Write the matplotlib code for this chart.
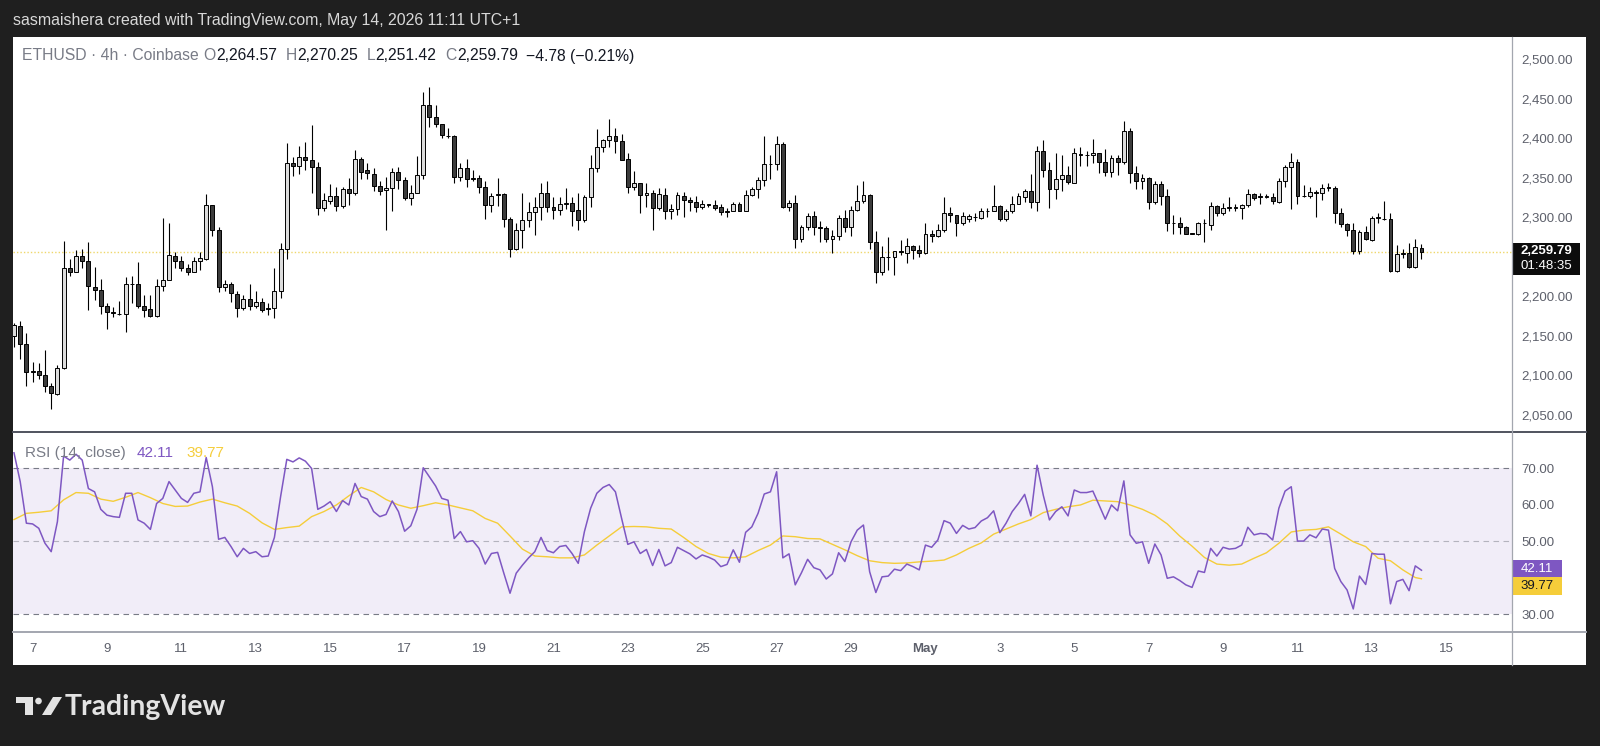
#!/usr/bin/env python3

import pandas as pd
import matplotlib
matplotlib.use('Agg')
import matplotlib.pyplot as plt
from matplotlib.patches import Rectangle, Polygon, Circle
from matplotlib.transforms import blended_transform_factory, offset_copy

plt.rcParams['font.family'] = ['Liberation Sans', 'DejaVu Sans']

# ETHUSD 4h bars (Coinbase); the first bar opens 2026-04-06 12:00
first_bar = '2026-04-06 12:00'

opens = [
    2153, 2166, 2144, 2109, 2109, 2104, 2090, 2080, 2113, 2240,
    2235, 2255, 2248, 2216, 2212, 2191, 2183.5, 2182, 2181, 2219,
    2219, 2191, 2188, 2179, 2217, 2224, 2255, 2248, 2240, 2235,
    2248, 2251, 2319, 2287, 2216, 2219, 2207, 2189, 2200, 2192,
    2196, 2189, 2189, 2210, 2264, 2372, 2368, 2380, 2376, 2367,
    2315, 2324, 2331, 2318, 2340, 2334, 2377, 2363, 2359, 2343,
    2338, 2341, 2361, 2351, 2328, 2335, 2357, 2445, 2431, 2421,
    2407, 2406, 2354, 2366, 2353, 2353, 2342, 2319, 2332, 2333,
    2301, 2264, 2288, 2300, 2310, 2317, 2334, 2317, 2313, 2321,
    2322, 2313, 2300, 2329, 2366, 2392, 2401, 2406, 2400, 2377,
    2342, 2347, 2332, 2335, 2315, 2332, 2311, 2314, 2331, 2326,
    2323, 2317, 2321, 2319, 2317, 2310, 2312, 2321, 2312, 2332,
    2339, 2351, 2371, 2371, 2396, 2317, 2322, 2276, 2291, 2305,
    2292, 2290, 2276, 2280, 2303, 2291, 2313, 2324, 2332, 2272,
    2234, 2253, 2253, 2260.5, 2259, 2267, 2262, 2258, 2283, 2280,
    2287, 2309, 2306, 2297, 2302, 2304, 2303, 2311, 2312, 2318,
    2302, 2311, 2321, 2329, 2337, 2323, 2387, 2363, 2339, 2352,
    2357, 2347, 2384, 2382, 2382, 2385, 2373, 2361, 2378, 2373,
    2413, 2360, 2350, 2353, 2323, 2346, 2331, 2297, 2297, 2292,
    2283.5, 2283, 2296, 2294, 2318, 2309, 2316, 2316, 2316, 2319,
    2333, 2330, 2329.5, 2329, 2323, 2349, 2367, 2373, 2331, 2331,
    2336, 2334, 2341.5, 2341, 2309, 2295, 2287, 2261, 2285, 2275,
    2303, 2302, 2301, 2236, 2257, 2258, 2241, 2264.57,
]
highs = [
    2170, 2172, 2157, 2121, 2120, 2136, 2094, 2117, 2274, 2251,
    2262, 2264, 2272, 2241, 2226, 2195, 2190, 2198, 2228, 2229,
    2247, 2206, 2205, 2226, 2303, 2296, 2260, 2255, 2245, 2253,
    2260, 2333, 2319, 2291, 2224, 2222, 2210, 2205, 2219, 2211,
    2202, 2195, 2239, 2271, 2397, 2380, 2394, 2399, 2420, 2374,
    2335, 2346, 2342, 2342, 2353, 2389, 2380, 2372, 2366, 2349,
    2354, 2366, 2367, 2354, 2344, 2381, 2462, 2469, 2446, 2422,
    2416, 2408, 2372, 2377, 2363, 2357, 2349, 2334, 2353, 2334,
    2304, 2296, 2335, 2323, 2329, 2347, 2350, 2329, 2329, 2341,
    2329, 2334, 2332, 2383, 2415, 2403, 2428, 2417, 2409, 2385,
    2362, 2347, 2347, 2338, 2341, 2341, 2320, 2336, 2336, 2329,
    2330, 2325, 2321, 2325, 2320, 2315, 2323, 2323, 2338, 2342,
    2355, 2407, 2383, 2407, 2399, 2326, 2332, 2294, 2309, 2312,
    2299, 2293, 2288, 2307, 2313, 2318, 2345, 2350, 2333, 2286,
    2267, 2279, 2261, 2275, 2277, 2269, 2269, 2296, 2287, 2295,
    2329, 2317, 2307, 2310, 2308, 2309, 2315, 2315, 2345, 2319,
    2314, 2330, 2335, 2339, 2358, 2394, 2401, 2373, 2385, 2382,
    2368, 2391, 2392, 2387, 2403, 2385, 2390, 2382, 2382, 2426,
    2416, 2368, 2358, 2354, 2349, 2349, 2339, 2307, 2304, 2293,
    2284, 2298, 2302, 2323, 2319, 2322, 2329, 2320, 2320, 2339,
    2335, 2334, 2333, 2334, 2353, 2370, 2385, 2377, 2344, 2342,
    2338, 2346, 2347, 2343, 2315, 2296, 2296, 2288, 2293, 2305,
    2309, 2324, 2309, 2269, 2264, 2271, 2276, 2270.25,
]
lows = [
    2140, 2125, 2090, 2095, 2099, 2083, 2061, 2079, 2112, 2229,
    2234, 2239, 2187, 2199, 2182, 2163, 2178, 2180, 2158, 2195,
    2189, 2178, 2177, 2178, 2210, 2224, 2239, 2236, 2231, 2234,
    2237, 2250, 2280, 2209, 2210, 2196, 2177, 2186, 2186, 2189,
    2184, 2180, 2176, 2202, 2251, 2356, 2358, 2364, 2335, 2306,
    2311, 2321, 2311, 2315, 2319, 2332, 2352, 2352, 2337, 2332,
    2288, 2312, 2339, 2326, 2319, 2335, 2352, 2418, 2418, 2404,
    2404, 2347, 2349, 2342, 2349, 2335, 2301, 2310, 2318, 2292,
    2254, 2262, 2265, 2292, 2281, 2300, 2310, 2302, 2307, 2314,
    2293, 2287, 2298, 2317, 2361, 2386, 2393, 2385, 2376, 2334,
    2338, 2309, 2317, 2287, 2313, 2301, 2302, 2307, 2304, 2311,
    2310, 2314, 2317, 2313, 2306, 2304, 2311, 2311, 2311, 2331,
    2328, 2343, 2352, 2363, 2315, 2311, 2265, 2272, 2287, 2281,
    2272, 2272, 2259, 2275, 2285, 2280, 2312, 2322, 2263, 2220,
    2231, 2237, 2231, 2256, 2246, 2251, 2253, 2257, 2273, 2279,
    2285, 2298, 2280, 2294, 2298, 2299, 2302, 2304, 2311, 2299,
    2299, 2309, 2320, 2323, 2316, 2311, 2355, 2316, 2327, 2337,
    2346, 2347, 2368, 2368, 2372, 2360, 2356, 2355, 2357, 2371,
    2347, 2340, 2340, 2314, 2321, 2319, 2286, 2282, 2282, 2282,
    2282.5, 2281, 2272, 2288, 2305, 2307, 2312, 2311, 2301, 2317,
    2326, 2321, 2328, 2320, 2322, 2342, 2314, 2321, 2329, 2328,
    2304, 2326, 2337, 2297, 2292, 2280, 2257, 2257, 2275, 2274,
    2297, 2300, 2235, 2235, 2252, 2239, 2240, 2251.42,
]
closes = [
    2167, 2144, 2108, 2108, 2104, 2090, 2081, 2113, 2240, 2235,
    2255, 2249, 2217, 2212, 2191, 2184, 2183, 2181, 2219, 2219.5,
    2191, 2187, 2179, 2217, 2225, 2256, 2248, 2239, 2235, 2249,
    2252, 2319, 2287, 2216, 2219, 2208, 2189, 2200, 2192, 2196,
    2187, 2188, 2210, 2264, 2372, 2368, 2380, 2376, 2367, 2315,
    2326, 2331, 2318, 2340, 2334, 2377, 2361, 2360, 2343, 2337,
    2341, 2361, 2351, 2328, 2335, 2357, 2445, 2431, 2421, 2408,
    2406.5, 2355, 2366, 2352, 2352.5, 2342, 2319, 2331, 2333, 2301,
    2264, 2288, 2300, 2310, 2317, 2334, 2317, 2313, 2321, 2321.5,
    2312, 2300, 2329, 2366, 2392, 2401, 2406, 2400, 2376, 2342,
    2347, 2332, 2335, 2315, 2333, 2311, 2314, 2332, 2326, 2323,
    2317, 2321, 2319, 2315, 2310, 2312, 2321, 2312, 2332, 2339,
    2351, 2371, 2371.5, 2396, 2317, 2322, 2276, 2291, 2305, 2292,
    2290, 2276, 2280, 2303, 2291, 2313, 2324, 2332, 2273, 2234,
    2253, 2253.5, 2261, 2260, 2267, 2262, 2258, 2283, 2280, 2287,
    2309, 2306, 2297, 2305, 2305, 2304.5, 2311, 2311.5, 2318, 2302,
    2311, 2321, 2330, 2337, 2323, 2387, 2363, 2339, 2352, 2357,
    2348, 2385, 2382, 2382.5, 2385, 2373, 2361, 2378, 2373, 2413,
    2360, 2350, 2353, 2323, 2346, 2331, 2296, 2296.5, 2292, 2283,
    2283, 2296, 2296.5, 2318, 2309, 2316, 2316.5, 2316, 2319, 2333,
    2328, 2329.5, 2330, 2324, 2349, 2367, 2373, 2331, 2330.5, 2336,
    2335, 2341, 2341, 2309, 2295, 2287, 2261, 2285, 2276, 2303,
    2303.5, 2301, 2236, 2257, 2259, 2241, 2266, 2259.79,
]

# RSI(14, close), one value per bar
rsi_values = [
    74.3, 66.4, 55.0, 54.8, 53.6, 49.5, 47.2, 55.4, 73.4, 72.3,
    73.9, 72.3, 64.5, 63.6, 58.8, 57.2, 56.8, 56.6, 63.2, 63.2,
    55.9, 55.0, 53.3, 60.4, 61.8, 66.4, 64.1, 61.8, 60.7, 63.2,
    63.6, 73.0, 65.0, 50.6, 51.1, 48.6, 45.8, 48.1, 46.7, 47.2,
    45.8, 46.0, 51.1, 62.3, 72.5, 71.8, 72.9, 72.0, 70.0, 58.8,
    59.7, 60.9, 58.2, 61.2, 60.0, 65.9, 62.3, 61.6, 58.2, 56.8,
    57.4, 61.1, 58.2, 52.8, 54.3, 58.8, 70.2, 67.7, 65.2, 61.8,
    61.3, 50.8, 52.7, 49.9, 50.2, 48.1, 43.8, 46.7, 47.0, 41.3,
    35.8, 41.3, 43.5, 45.5, 47.2, 51.1, 47.5, 46.9, 48.6, 48.9,
    46.7, 44.0, 52.7, 59.1, 63.2, 64.8, 65.6, 63.6, 56.3, 49.2,
    49.9, 46.7, 47.8, 43.4, 47.8, 43.3, 44.2, 48.4, 47.5, 46.6,
    45.2, 46.3, 45.7, 44.9, 43.1, 43.7, 47.7, 44.3, 52.5, 54.0,
    57.7, 63.0, 63.6, 69.1, 45.5, 46.6, 38.1, 41.4, 45.1, 42.8,
    42.2, 39.7, 41.1, 46.9, 44.5, 49.9, 53.1, 54.5, 41.7, 36.0,
    40.3, 40.5, 42.4, 42.0, 43.8, 43.1, 42.2, 49.0, 48.4, 50.4,
    55.7, 55.0, 52.2, 54.4, 53.4, 53.8, 55.6, 56.5, 58.4, 52.4,
    55.0, 58.2, 60.4, 62.9, 57.0, 70.9, 62.7, 55.9, 58.2, 59.5,
    57.0, 64.1, 63.4, 63.4, 63.8, 60.0, 56.1, 60.0, 58.4, 66.6,
    51.8, 49.5, 49.9, 44.0, 49.3, 46.3, 39.9, 40.3, 39.3, 38.1,
    37.4, 41.9, 41.5, 48.1, 46.0, 48.4, 47.9, 48.1, 49.0, 53.9,
    51.8, 52.2, 52.0, 50.4, 59.1, 63.8, 65.0, 50.1, 50.1, 51.8,
    51.0, 53.4, 53.1, 42.6, 39.0, 36.7, 31.5, 40.5, 38.2, 46.7,
    46.5, 46.5, 32.9, 39.0, 39.6, 36.5, 43.3, 42.11,
]

# RSI-based moving average, read at every second bar, then the last bar
rsi_ma_every_2nd = [
    56.0, 57.7, 58.0, 58.4, 61.4, 63.4, 63.2, 61.6, 61.0, 62.1,
    63.4, 62.0, 60.4, 59.6, 59.7, 60.8, 61.6, 60.6, 59.7, 57.7,
    55.1, 53.3, 53.8, 54.2, 56.8, 58.2, 60.0, 62.5, 64.8, 63.6,
    61.5, 60.0, 59.1, 59.8, 60.6, 60.0, 59.2, 58.4, 56.3, 55.0,
    51.5, 47.9, 46.0, 45.8, 45.5, 45.5, 46.3, 49.0, 51.5, 54.0,
    54.1, 54.0, 53.6, 53.4, 51.1, 48.6, 46.7, 45.7, 45.5, 45.8,
    47.5, 49.0, 51.5, 51.3, 50.8, 50.7, 49.2, 47.7, 46.1, 44.7,
    44.2, 44.0, 44.1, 44.4, 44.6, 44.9, 46.3, 48.1, 49.6, 52.0,
    53.4, 54.8, 56.0, 57.9, 58.8, 59.5, 60.0, 61.3, 61.1, 60.9,
    60.0, 58.8, 57.2, 54.8, 51.5, 48.7, 45.6, 43.8, 43.5, 43.8,
    45.4, 46.9, 49.5, 52.6, 53.1, 53.3, 54.0, 52.0, 49.9, 48.6,
    45.4, 44.7, 42.2, 40.1,
]
rsi_ma_last = 39.77

price_ticks = [2050, 2100, 2150, 2200, 2300, 2350, 2400, 2450, 2500]
rsi_ticks = [30, 50, 60, 70]
date_ticks = ['2026-04-07', '2026-04-09', '2026-04-11', '2026-04-13', '2026-04-15',
              '2026-04-17', '2026-04-19', '2026-04-21', '2026-04-23', '2026-04-25',
              '2026-04-27', '2026-04-29', '2026-05-01', '2026-05-03', '2026-05-05',
              '2026-05-07', '2026-05-09', '2026-05-11', '2026-05-13', '2026-05-15']
date_labels = ['7', '9', '11', '13', '15', '17', '19', '21', '23', '25',
               '27', '29', 'May', '3', '5', '7', '9', '11', '13', '15']

last_price = 2259.79
countdown = '01:48:35'
header = 'sasmaishera created with TradingView.com, May 14, 2026 11:11 UTC+1'

W, H = 1600, 746
DARK = '#1f1f1f'
GRAY_TXT = '#787b86'
AXIS_TXT = '#5d606b'
INK = '#131722'
UP_FILL = '#dcdcdc'
DOWN_FILL = '#3c3c3c'
RSI_COLOR = '#7e57c2'
MA_COLOR = '#f5cd3a'


def px_rect(left, top, right, bottom):
    # figure fraction box from pixel edges (origin top-left)
    return [left / W, 1 - bottom / H, (right - left) / W, (bottom - top) / H]


def text_width(t):
    return t.get_window_extent(t.figure.canvas.get_renderer()).width


def fit_text(ax, x, y, s, width, **kw):
    t = ax.text(x, y, s, **kw)
    t.set_fontsize(t.get_fontsize() * width / text_width(t))
    return t


def bar_pos(stamp):
    return (pd.Timestamp(stamp) - pd.Timestamp(first_bar)) / pd.Timedelta('4h')


def scale_labels(ax, values, fmt, lift):
    # price-scale style labels, left aligned just right of the pane
    trans = offset_copy(ax.get_yaxis_transform(), fig=ax.figure, x=9, y=lift, units='dots')
    for v in values:
        ax.text(1.0, v, fmt.format(v), transform=trans, ha='left', va='center_baseline',
                fontsize=9.5, color=AXIS_TXT, clip_on=False)


def draw_candles(ax):
    x = list(range(len(opens)))
    ax.vlines(x, lows, highs, color='#000000', lw=0.8, zorder=2)
    for i, (o, c) in enumerate(zip(opens, closes)):
        fill = UP_FILL if c >= o else DOWN_FILL
        ax.bar(i, max(abs(c - o), 0.3), bottom=min(o, c), width=0.62,
               color=fill, edgecolor='#000000', linewidth=0.7, zorder=3)
    ax.axhline(last_price, color='#efd76a', lw=1.0, ls=(0, (1, 1.5)), zorder=1)

    ax.set_ylim(2032.2, 2531.6)
    scale_labels(ax, price_ticks, '{:,.2f}', 3)


def draw_rsi(ax):
    ax.axhspan(30, 70, color=RSI_COLOR, alpha=0.1, lw=0)
    ax.axhline(70, color=GRAY_TXT, lw=0.8, dashes=(5, 4))
    ax.axhline(30, color=GRAY_TXT, lw=0.8, dashes=(5, 4))
    ax.axhline(50, color=GRAY_TXT, lw=0.8, dashes=(5, 4), alpha=0.5)

    ax.plot(range(len(rsi_values)), rsi_values, color=RSI_COLOR, lw=1.1, zorder=3)
    ma_x = list(range(0, len(rsi_values), 2)) + [len(rsi_values) - 1]
    ax.plot(ma_x, rsi_ma_every_2nd + [rsi_ma_last], color=MA_COLOR, lw=1.0, zorder=2)

    ax.set_ylim(25.45, 80.0)
    scale_labels(ax, rsi_ticks, '{:.2f}', 0)

    # time scale under the RSI pane
    trans = blended_transform_factory(ax.transData, ax.transAxes)
    for stamp, label in zip(date_ticks, date_labels):
        ax.text(bar_pos(stamp), -0.088, label, transform=trans, ha='center', va='center',
                fontsize=9.5, color=AXIS_TXT, fontweight='bold' if label == 'May' else 'normal')


def style_pane(ax):
    ax.set_xlim(-0.16, 241.6)
    ax.set_xticks([])
    ax.set_yticks([])
    for s in ax.spines.values():
        s.set_visible(False)


def draw_legend(top):
    change = closes[-1] - opens[-1]
    pct = change / opens[-1] * 100
    # (text, colour, gap before it in px)
    parts = [('ETHUSD · 4h · Coinbase', GRAY_TXT, 0),
             ('O', GRAY_TXT, 5), (f'{opens[-1]:,.2f}', INK, 0),
             ('H', GRAY_TXT, 9), (f'{highs[-1]:,.2f}', INK, 0),
             ('L', GRAY_TXT, 9), (f'{lows[-1]:,.2f}', INK, 0),
             ('C', GRAY_TXT, 9), (f'{closes[-1]:,.2f}', INK, 0),
             (f'\u2212{abs(change):.2f} (\u2212{abs(pct):.2f}%)', INK, 8)]
    x0, x1, y = 22, 635, 56
    texts = [top.text(0, y, s, color=col, fontsize=10, va='center') for s, col, _ in parts]
    gaps = sum(g for _, _, g in parts)
    fs = 10 * (x1 - x0 - gaps) / sum(text_width(t) for t in texts)
    x = x0
    for t, (_, _, gap) in zip(texts, parts):
        t.set_fontsize(fs)
        x += gap
        t.set_x(x)
        x += text_width(t)

    # RSI legend
    t = fit_text(top, 25, 453, 'RSI (14, close)', 101, fontsize=10, color=GRAY_TXT,
                 va='center')
    fs = t.get_fontsize()
    top.text(137, 453, f'{rsi_values[-1]:.2f}', color=RSI_COLOR, fontsize=fs, va='center')
    top.text(186, 453, f'{rsi_ma_last:.2f}', color=MA_COLOR, fontsize=fs, va='center')


def draw_frame(fig):
    bg = fig.add_axes([0, 0, 1, 1], zorder=0)
    bg.set_xlim(0, W)
    bg.set_ylim(H, 0)
    bg.axis('off')
    bg.add_patch(Rectangle((13, 37), 1573, 628, color='white', lw=0))

    top = fig.add_axes([0, 0, 1, 1], zorder=10)
    top.set_xlim(0, W)
    top.set_ylim(H, 0)
    top.axis('off')
    top.patch.set_alpha(0)

    # pane separators
    top.plot([13, 1586], [432, 432], color='#50535e', lw=1.4)
    top.plot([13, 1586], [631.5, 631.5], color='#a3a6af', lw=1.4)
    top.plot([1512, 1512], [37, 665], color='#a3a6af', lw=0.9)

    # last price / countdown badge
    top.add_patch(Rectangle((1512, 243), 68, 32, color='#0c0c0c', lw=0))
    top.text(1546, 251, f'{last_price:,.2f}', color='white', ha='center', va='center',
             fontsize=9.5, fontweight='bold')
    top.text(1546, 266, countdown, color='white', ha='center', va='center', fontsize=9.5)

    # RSI value badges
    top.add_patch(Rectangle((1512, 560), 50, 17, color=RSI_COLOR, lw=0))
    top.text(1537, 568.5, f'{rsi_values[-1]:.2f}', color='white', ha='center', va='center',
             fontsize=9.5)
    top.add_patch(Rectangle((1512, 577), 50, 18, color=MA_COLOR, lw=0))
    top.text(1537, 586, f'{rsi_ma_last:.2f}', color=INK, ha='center', va='center',
             fontsize=9.5)

    # header line above the chart
    fit_text(top, 13, 21, header, 505, fontsize=11, color='#d8d8d8', va='center')
    draw_legend(top)

    # TradingView logo
    logo = '#e3e3e3'
    top.add_patch(Polygon([(16, 697), (33, 697), (33, 715), (25, 715), (25, 703), (16, 703)],
                          closed=True, color=logo, lw=0))
    top.add_patch(Circle((38.5, 701), 3.3, color=logo, lw=0))
    top.add_patch(Polygon([(53, 697), (62, 697), (51, 715), (42, 715)], closed=True,
                          color=logo, lw=0))
    fit_text(top, 65, 707, 'TradingView', 162, fontsize=18, color=logo, va='center',
             fontweight='bold', family=['Lato', 'DejaVu Sans'])


def main():
    fig = plt.figure(figsize=(W / 100, H / 100), dpi=100, facecolor=DARK)
    draw_frame(fig)

    ax_price = fig.add_axes(px_rect(13, 37, 1512, 432), zorder=1)
    ax_rsi = fig.add_axes(px_rect(13, 432, 1512, 631), zorder=1)
    for ax in (ax_price, ax_rsi):
        ax.set_facecolor('white')
        style_pane(ax)

    draw_candles(ax_price)
    draw_rsi(ax_rsi)

    fig.savefig('out.png', dpi=100, facecolor=DARK)


if __name__ == '__main__':
    main()
